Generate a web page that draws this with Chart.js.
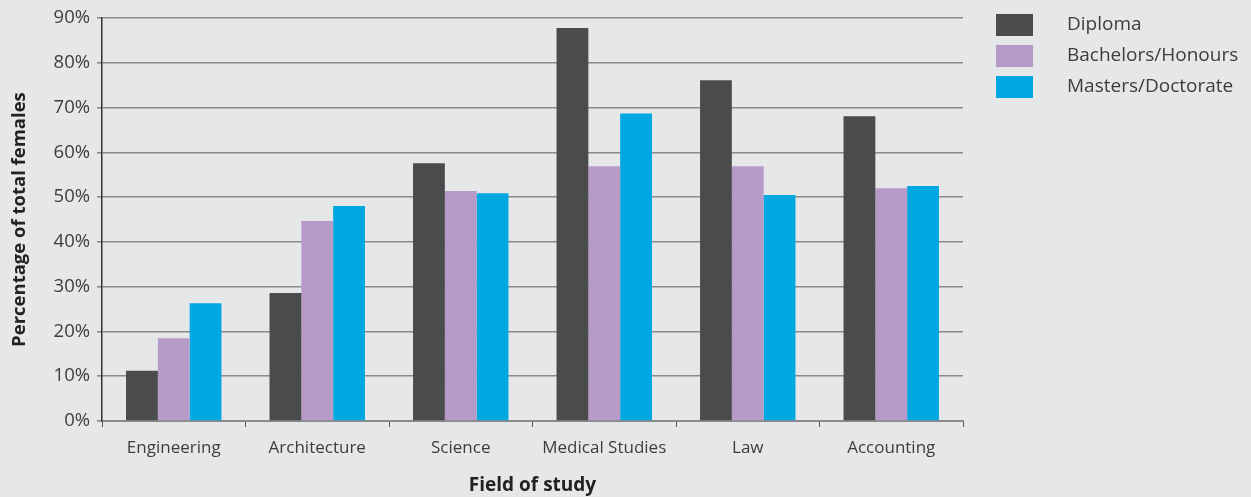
<!DOCTYPE html>
<html><head><meta charset="utf-8">
<script src="https://cdn.jsdelivr.net/npm/chart.js@4.4.1/dist/chart.umd.min.js"></script>
<style>
html,body{margin:0;padding:0;background:#e6e7e9;}
#wrap{width:1251px;height:497px;position:relative;}
</style></head><body>
<div id="wrap"><canvas id="c" width="1251" height="497"></canvas></div>
<script>
const categories = ["Engineering","Architecture","Science","Medical Studies","Law","Accounting"];
const diploma = [11.2, 28.6, 57.6, 87.8, 76.1, 68.1];
const bachelors = [18.5, 44.7, 51.4, 56.9, 56.9, 52.0];
const masters = [26.3, 48.0, 50.9, 68.7, 50.5, 52.5];
const seriesNames = ["Diploma","Bachelors/Honours","Masters/Doctorate"];
const colors = ["#4a4b4d","#b69bc9","#00a8e2"];
const FONT = "'Open Sans', sans-serif";
const TXT = "#3d3d3f";

const legendPlugin = {
  id:'customLegend',
  afterDraw(chart){
    const ctx = chart.ctx;
    ctx.save();
    chart.data.datasets.forEach((ds,i)=>{
      const y = 14 + i*31;
      ctx.fillStyle = ds.backgroundColor;
      ctx.fillRect(996, y, 37, 22);
      ctx.fillStyle = TXT;
      ctx.font = "19px " + FONT;
      ctx.textBaseline = 'middle';
      ctx.textAlign = 'left';
      ctx.fillText(ds.label, 1067, y + 11);
    });
    ctx.restore();
  }
};

new Chart(document.getElementById('c'), {
  type:'bar',
  data:{
    labels: categories,
    datasets:[
      {label:seriesNames[0], data:diploma, backgroundColor:colors[0]},
      {label:seriesNames[1], data:bachelors, backgroundColor:colors[1]},
      {label:seriesNames[2], data:masters, backgroundColor:colors[2]}
    ]
  },
  options:{
    responsive:false,
    animation:false,
    devicePixelRatio:1,
    layout:{padding:{top:18,right:288,left:0,bottom:0}},
    datasets:{bar:{categoryPercentage:0.665,barPercentage:1.0}},
    plugins:{legend:{display:false},tooltip:{enabled:false}},
    scales:{
      x:{
        grid:{offset:true,drawOnChartArea:false,tickLength:6,color:'#555',lineWidth:1},
        border:{color:'#8a8a8c',width:2},
        ticks:{color:TXT,font:{family:FONT,size:17},padding:11},
        title:{display:true,text:'Field of study',color:'#222',font:{family:FONT,size:19,weight:'bold'},padding:{top:14,bottom:0}},
        afterFit(s){s.height = 76;}
      },
      y:{
        min:0,max:90,
        ticks:{stepSize:10,color:TXT,font:{family:FONT,size:18.5},padding:7,callback:v=>v+'%'},
        grid:{color:'#8a8a8c',lineWidth:1.6,tickLength:5},
        border:{color:'#333',width:1.5},
        title:{display:true,text:'Percentage of total females',color:'#222',font:{family:FONT,size:18.5,weight:'bold'},padding:{top:9,bottom:6}},
        afterFit(s){s.width = 102;}
      }
    }
  },
  plugins:[legendPlugin]
});
</script>
</body></html>
